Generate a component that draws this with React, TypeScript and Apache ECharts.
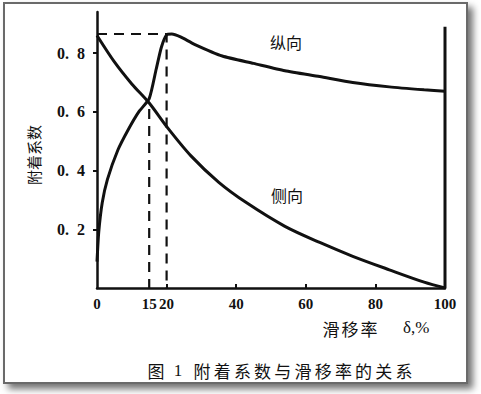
import React, { useEffect, useRef } from "react";
import * as echarts from "echarts";

// ---- data ----
const xLabelValues = [0, 15, 20, 40, 60, 80, 100];
const xTickValues = [20, 40, 60, 80];
const yLabelValues = [0.2, 0.4, 0.6, 0.8];

// 纵向 (longitudinal) adhesion coefficient vs slip rate
const longSlip = [0, 0.5, 1.5, 3, 6, 9, 12, 15, 17, 18.5, 20, 21.5, 24, 28, 36, 45, 54, 64, 73.5, 84, 94, 100];
const longMu = [0.09, 0.19, 0.29, 0.37, 0.47, 0.54, 0.6, 0.645, 0.745, 0.82, 0.862, 0.865, 0.855, 0.83, 0.79, 0.765, 0.74, 0.72, 0.7, 0.685, 0.675, 0.67];

// 侧向 (lateral) adhesion coefficient vs slip rate
const latSlip = [0, 5, 10, 15, 20, 27, 35, 43, 54, 64, 73.5, 84, 94, 100];
const latMu = [0.86, 0.77, 0.695, 0.63, 0.55, 0.45, 0.36, 0.29, 0.21, 0.155, 0.108, 0.062, 0.02, 0];

const peakSlip = 20;
const peakMu = 0.865;
const crossSlip = 15;
const crossMu = 0.61;
const rightLineTop = 0.89;

const captionHead = ["图", "1"];
const captionBody = "附着系数与滑移率的关系";
const xName = "滑移率";
const xUnit = "δ,%";
const yName = "附着系数";

const CJK = '"Noto Sans CJK SC", "Noto Sans CJK JP", sans-serif';
const SERIF = '"Liberation Serif", "DejaVu Serif", serif';

export default function App() {
  const ref = useRef<HTMLDivElement>(null);

  useEffect(() => {
    if (!ref.current) return;
    const chart = echarts.init(ref.current, undefined, { renderer: "svg" });

    const zip = (xs: number[], ys: number[]) => xs.map((x, i) => [x, ys[i]]);
    const black = "#111";

    const graphic: any[] = [
      {
        type: "rect",
        z: -10,
        silent: true,
        shape: { x: 4, y: 3, width: 463, height: 380 },
        style: {
          fill: "#fff",
          stroke: "#6a6a6a",
          lineWidth: 2,
          shadowBlur: 7,
          shadowOffsetX: 5,
          shadowOffsetY: 5,
          shadowColor: "rgba(0,0,0,0.55)",
        },
      },
      {
        type: "text",
        x: 33,
        y: 155,
        rotation: Math.PI / 2,
        style: {
          text: yName,
          font: `15px ${CJK}`,
          fill: black,
          align: "center",
          verticalAlign: "middle",
        },
      },
      {
        type: "text",
        x: 286,
        y: 42,
        style: { text: "纵向", font: `16px ${CJK}`, fill: black, align: "center", verticalAlign: "middle" },
      },
      {
        type: "text",
        x: 287,
        y: 195,
        style: { text: "侧向", font: `16px ${CJK}`, fill: black, align: "center", verticalAlign: "middle" },
      },
    ];

    // axis name
    xName.split("").forEach((ch, i) => {
      graphic.push({
        type: "text",
        x: 331 + i * 19,
        y: 328,
        style: { text: ch, font: `17px ${CJK}`, fill: black, align: "center", verticalAlign: "middle" },
      });
    });
    graphic.push({
      type: "text",
      x: 403,
      y: 327,
      style: { text: xUnit, font: `17px ${SERIF}`, fill: black, align: "left", verticalAlign: "middle" },
    });

    // caption
    graphic.push({
      type: "text",
      x: 156,
      y: 370,
      style: { text: captionHead[0], font: `17px ${CJK}`, fill: black, align: "center", verticalAlign: "middle" },
    });
    graphic.push({
      type: "text",
      x: 178,
      y: 370,
      style: { text: captionHead[1], font: `17px ${SERIF}`, fill: black, align: "center", verticalAlign: "middle" },
    });
    captionBody.split("").forEach((ch, i) => {
      graphic.push({
        type: "text",
        x: 202 + i * 20.2,
        y: 370,
        style: { text: ch, font: `17px ${CJK}`, fill: black, align: "center", verticalAlign: "middle" },
      });
    });

    const option: any = {
      animation: false,
      backgroundColor: "#fff",
      grid: { left: 97, right: 36, top: 12, bottom: 106, containLabel: false },
      xAxis: {
        type: "value",
        min: 0,
        max: 100,
        axisLine: { show: true, lineStyle: { color: black, width: 2.5 } },
        axisTick: {
          show: true,
          inside: true,
          length: 4,
          customValues: xTickValues,
          lineStyle: { color: black, width: 2 },
        },
        axisLabel: {
          customValues: xLabelValues,
          margin: 8,
          color: black,
          fontFamily: SERIF,
          fontWeight: "bold",
          fontSize: 15,
        },
        splitLine: { show: false },
      },
      yAxis: {
        type: "value",
        min: 0,
        max: 0.94,
        axisLine: { show: true, lineStyle: { color: black, width: 2.5 } },
        axisTick: {
          show: true,
          inside: false,
          length: 4,
          customValues: yLabelValues,
          lineStyle: { color: black, width: 2 },
        },
        axisLabel: {
          customValues: yLabelValues,
          margin: 12,
          color: black,
          fontFamily: SERIF,
          fontWeight: "bold",
          fontSize: 16,
          formatter: (v: number) => v.toFixed(1).replace(".", ".\u2002"),
        },
        splitLine: { show: false },
      },
      graphic,
      series: [
        {
          name: "纵向",
          type: "line",
          data: zip(longSlip, longMu),
          smooth: 0.2,
          showSymbol: false,
          lineStyle: { color: black, width: 3 },
          z: 5,
        },
        {
          name: "侧向",
          type: "line",
          data: zip(latSlip, latMu),
          smooth: 0.3,
          showSymbol: false,
          lineStyle: { color: black, width: 3 },
          z: 5,
        },
        {
          name: "peak",
          type: "line",
          data: [
            [0, peakMu],
            [peakSlip, peakMu],
            [peakSlip, 0],
          ],
          showSymbol: false,
          lineStyle: { color: black, width: 2.2, type: [10, 7] },
          z: 4,
        },
        {
          name: "cross",
          type: "line",
          data: [
            [crossSlip, crossMu],
            [crossSlip, 0],
          ],
          showSymbol: false,
          lineStyle: { color: black, width: 2.2, type: [10, 7] },
          z: 4,
        },
        {
          name: "edge",
          type: "line",
          data: [
            [100, 0],
            [100, rightLineTop],
          ],
          showSymbol: false,
          lineStyle: { color: black, width: 3 },
          z: 5,
        },
      ],
    };

    chart.setOption(option);
    return () => chart.dispose();
  }, []);

  return (
    <div
      ref={ref}
      style={{ position: "fixed", left: 0, top: 0, width: 481, height: 394, background: "#fff" }}
    />
  );
}
